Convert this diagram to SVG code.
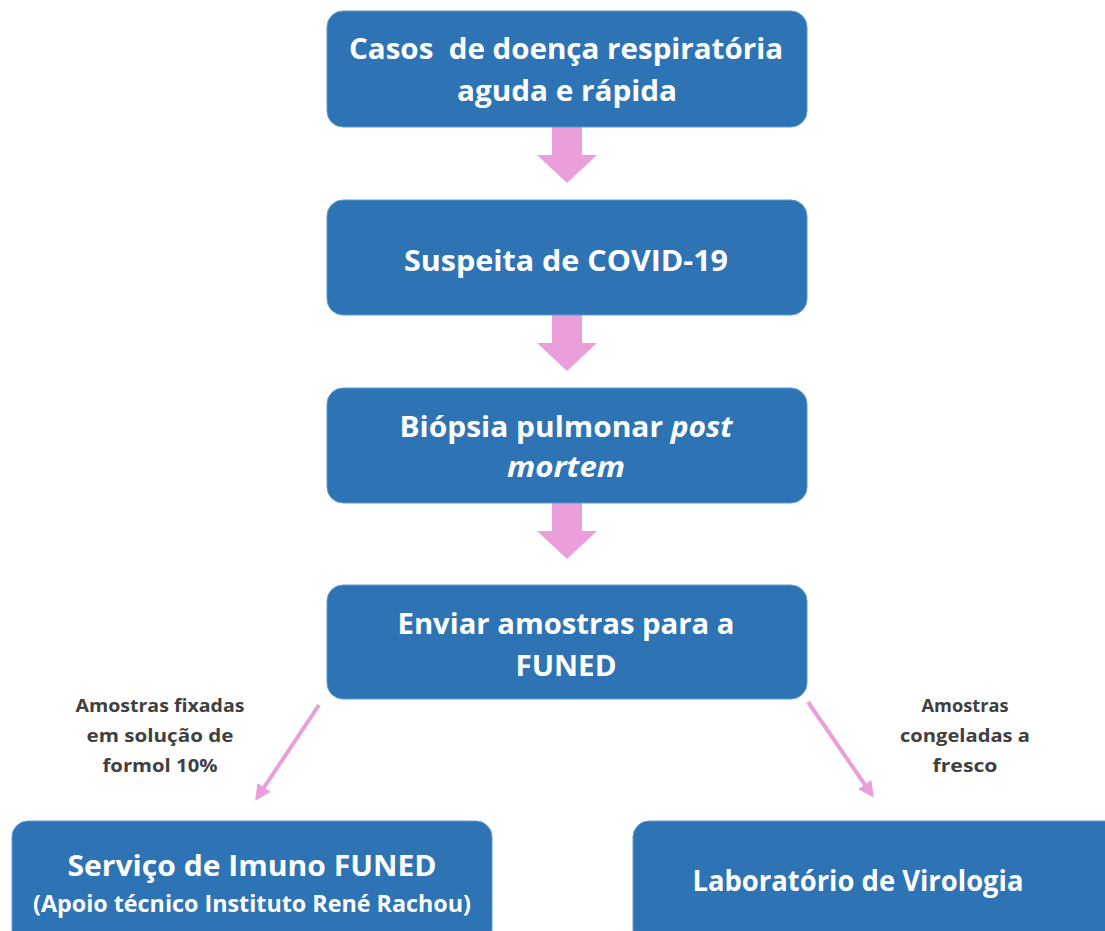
<svg xmlns="http://www.w3.org/2000/svg" width="1105" height="931" viewBox="0 0 1105 931">
<style>
.box{fill:#2E74B5;stroke:#5B9BD5;stroke-width:1}
.t{font-family:"Open Sans","Liberation Sans",sans-serif;font-weight:bold;fill:#fff;text-anchor:middle;font-size:28px}
.lbl{font-family:"Open Sans","Liberation Sans",sans-serif;font-weight:bold;fill:#404040;text-anchor:middle;font-size:17px}
.blk{fill:#EA9FDA}
.ln{stroke:#EA9FDA;stroke-width:4;fill:none}
</style>
<defs>
<marker id="ah" viewBox="0 0 10 10" refX="8" refY="5" markerWidth="4" markerHeight="4" orient="auto" markerUnits="strokeWidth">
<path d="M0,0 L10,5 L0,10 z" fill="#EA9FDA"/>
</marker>
</defs>
<rect width="1105" height="931" fill="#fff"/>
<g id="connectors">
<path class="blk" d="M552,127 H582 V155 H597 L567,183 L537,155 H552 Z"/>
<path class="blk" d="M552,315 H582 V343 H597 L567,371 L537,343 H552 Z"/>
<path class="blk" d="M552,503 H582 V531 H597 L567,559 L537,531 H552 Z"/>
<line class="ln" x1="319" y1="705" x2="257" y2="798" marker-end="url(#ah)"/>
<line class="ln" x1="808" y1="702" x2="872" y2="795" marker-end="url(#ah)"/>
<text class="lbl" x="160" y="712" textLength="169" lengthAdjust="spacingAndGlyphs">Amostras fixadas</text>
<text class="lbl" x="160" y="742" textLength="147" lengthAdjust="spacingAndGlyphs">em solução de</text>
<text class="lbl" x="160" y="772" textLength="115" lengthAdjust="spacingAndGlyphs">formol 10%</text>
<text class="lbl" x="965" y="712" textLength="87" lengthAdjust="spacingAndGlyphs">Amostras</text>
<text class="lbl" x="965" y="742" textLength="130" lengthAdjust="spacingAndGlyphs">congeladas a</text>
<text class="lbl" x="965" y="772" textLength="65" lengthAdjust="spacingAndGlyphs">fresco</text>
</g>
<g id="n1">
<rect class="box" x="327" y="11" width="480" height="116" rx="16"/>
<text class="t" x="566" y="59" textLength="434" lengthAdjust="spacingAndGlyphs" xml:space="preserve">Casos  de doença respiratória</text>
<text class="t" x="567" y="101" textLength="220" lengthAdjust="spacingAndGlyphs">aguda e rápida</text>
</g>
<g id="n2">
<rect class="box" x="327" y="200" width="480" height="115" rx="16"/>
<text class="t" x="566" y="271" textLength="324" lengthAdjust="spacingAndGlyphs">Suspeita de COVID-19</text>
</g>
<g id="n3">
<rect class="box" x="327" y="388" width="480" height="115" rx="16"/>
<text class="t" x="566" y="437" textLength="333" lengthAdjust="spacingAndGlyphs">Biópsia pulmonar <tspan font-style="italic">post</tspan></text>
<text class="t" x="566" y="477" font-style="italic" textLength="118" lengthAdjust="spacingAndGlyphs">mortem</text>
</g>
<g id="n4">
<rect class="box" x="327" y="585" width="480" height="114" rx="16"/>
<text class="t" x="566" y="634" textLength="337" lengthAdjust="spacingAndGlyphs">Enviar amostras para a</text>
<text class="t" x="566" y="676" textLength="101" lengthAdjust="spacingAndGlyphs">FUNED</text>
</g>
<g id="n5">
<rect class="box" x="12" y="821" width="480" height="125" rx="16"/>
<text class="t" x="252" y="876" textLength="369" lengthAdjust="spacingAndGlyphs">Serviço de Imuno FUNED</text>
<text class="t" x="252" y="912" style="font-size:24px" textLength="438" lengthAdjust="spacingAndGlyphs">(Apoio técnico Instituto René Rachou)</text>
</g>
<g id="n6">
<rect class="box" x="633" y="821" width="490" height="125" rx="16"/>
<text class="t" x="858" y="891" textLength="331" lengthAdjust="spacingAndGlyphs">Laboratório de Virologia</text>
</g>
</svg>
